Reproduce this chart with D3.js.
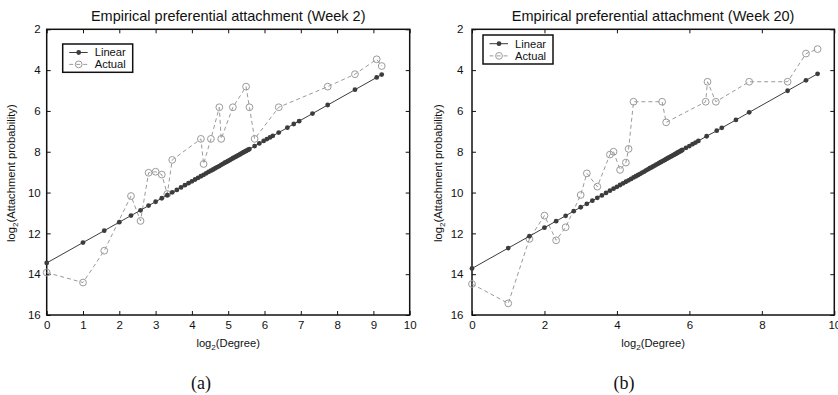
<!DOCTYPE html>
<html>
<head>
<meta charset="utf-8">
<script src="https://cdn.jsdelivr.net/npm/d3@7/dist/d3.min.js"></script>
<style>
  html, body { margin: 0; padding: 0; background: #fff; }
  svg { display: block; font-family: "Liberation Sans", Arial, sans-serif; }
</style>
</head>
<body>
<svg id="chart" width="838" height="395"></svg>
<script>
// Week 2: linear reference (log2 degree vs. log2 probability)
const week2LinearX = [0, 1, 1.585, 2, 2.322, 2.585, 2.807, 3, 3.170, 3.322, 3.459, 3.585, 3.700, 3.807, 3.907, 4,
  4.087, 4.170, 4.248, 4.322, 4.392, 4.459, 4.524, 4.585, 4.644, 4.700, 4.755, 4.807, 4.858, 4.907, 4.954, 5,
  5.044, 5.087, 5.129, 5.170, 5.209, 5.248, 5.285, 5.322, 5.358, 5.392, 5.426, 5.459, 5.492, 5.524, 5.555, 5.585,
  5.728, 5.858, 5.977, 6.066, 6.150, 6.229, 6.392, 6.630, 6.807, 6.954, 7.322, 7.741, 8.492, 9.090, 9.229];
const week2LinearY = [13.45, 12.45, 11.87, 11.45, 11.13, 10.87, 10.64, 10.45, 10.28, 10.13, 9.99, 9.87, 9.75, 9.64, 9.54, 9.45,
  9.36, 9.28, 9.20, 9.13, 9.06, 8.99, 8.93, 8.87, 8.81, 8.75, 8.70, 8.64, 8.59, 8.54, 8.50, 8.45,
  8.41, 8.36, 8.32, 8.28, 8.24, 8.20, 8.17, 8.13, 8.09, 8.06, 8.02, 7.99, 7.96, 7.93, 7.90, 7.87,
  7.72, 7.59, 7.47, 7.38, 7.30, 7.22, 7.06, 6.82, 6.64, 6.50, 6.13, 5.71, 4.96, 4.36, 4.22];
// Week 2: measured attachment
const week2ActualX = [0, 1, 1.585, 2.322, 2.585, 2.807, 3, 3.170, 3.322, 3.459, 4.248, 4.322, 4.524, 4.755, 4.807,
  5.129, 5.492, 5.585, 5.728, 6.392, 7.741, 8.492, 9.090, 9.229];
const week2ActualY = [13.92, 14.41, 12.85, 10.17, 11.39, 9.03, 8.98, 9.12, 10.07, 8.40, 7.37, 8.60, 7.37, 5.82, 7.37,
  5.82, 4.81, 5.82, 7.37, 5.82, 4.81, 4.20, 3.47, 3.80];

// Week 20: linear reference
const week20LinearX = [0, 1, 1.585, 2, 2.322, 2.585, 2.807, 3, 3.170, 3.322, 3.459, 3.585, 3.700, 3.807, 3.907, 4,
  4.087, 4.170, 4.248, 4.322, 4.392, 4.459, 4.524, 4.585, 4.644, 4.700, 4.755, 4.807, 4.858, 4.907, 4.954, 5,
  5.044, 5.087, 5.129, 5.170, 5.209, 5.248, 5.285, 5.322, 5.358, 5.392, 5.426, 5.459, 5.492, 5.524, 5.555, 5.585,
  5.615, 5.644, 5.672, 5.700, 5.728, 5.755, 5.781, 5.807, 5.907, 6.0, 6.087, 6.170, 6.248, 6.476, 6.755, 6.895,
  7.285, 7.651, 8.711, 9.219, 9.539];
const week20LinearY = [13.72, 12.72, 12.14, 11.72, 11.40, 11.14, 10.91, 10.72, 10.55, 10.40, 10.26, 10.14, 10.02, 9.91, 9.81, 9.72,
  9.63, 9.55, 9.47, 9.40, 9.33, 9.26, 9.20, 9.14, 9.08, 9.02, 8.97, 8.91, 8.86, 8.81, 8.77, 8.72,
  8.68, 8.63, 8.59, 8.55, 8.51, 8.47, 8.44, 8.40, 8.36, 8.33, 8.29, 8.26, 8.23, 8.20, 8.17, 8.14,
  8.11, 8.08, 8.05, 8.02, 7.99, 7.97, 7.94, 7.91, 7.81, 7.72, 7.63, 7.55, 7.47, 7.24, 6.97, 6.83,
  6.44, 6.07, 5.01, 4.50, 4.18];
// Week 20: measured attachment
const week20ActualX = [0, 1, 1.585, 2, 2.322, 2.585, 3, 3.170, 3.459, 3.807, 3.907, 4.087, 4.248, 4.322, 4.459,
  5.248, 5.358, 6.45, 6.5, 6.73, 7.651, 8.711, 9.219, 9.539];
const week20ActualY = [14.48, 15.43, 12.27, 11.13, 12.34, 11.70, 10.12, 9.06, 9.71, 8.14, 8.00, 8.89, 8.53, 7.86, 5.55,
  5.55, 6.56, 5.55, 4.57, 5.55, 4.57, 4.57, 3.19, 2.97];

// Axis ticks
const xTicksWeek2 = [0, 1, 2, 3, 4, 5, 6, 7, 8, 9, 10];
const xTicksWeek20 = [0, 2, 4, 6, 8, 10];
const yTicks = [2, 4, 6, 8, 10, 12, 14, 16];

const titles = ["Empirical preferential attachment (Week 2)", "Empirical preferential attachment (Week 20)"];
const captions = ["(a)", "(b)"];
const legendLabels = ["Linear", "Actual"];

const svg = d3.select("#chart");

const panels = [
  { left: 46.7, right: 409.7, linX: week2LinearX, linY: week2LinearY, actX: week2ActualX, actY: week2ActualY,
    xTicks: xTicksWeek2, title: titles[0], titleY: 21, caption: captions[0], captionX: 201,
    ytitleX: 15, yPad: 6, legend: { x: 62.7, y: 44, w: 70, h: 28.3 } },
  { left: 472, right: 834.3, linX: week20LinearX, linY: week20LinearY, actX: week20ActualX, actY: week20ActualY,
    xTicks: xTicksWeek20, title: titles[1], titleY: 20.5, caption: captions[1], captionX: 624,
    ytitleX: 441.5, yPad: 8.5, legend: { x: 483, y: 35, w: 70, h: 29 } }
];

const plotTop = 29.3, plotBottom = 315;
const linearColor = "#3c3c3c";
const actualColor = "#9a9a9a";

function subscriptLabel(sel, pre, sub, post) {
  sel.append("tspan").text(pre);
  sel.append("tspan").attr("dy", 3).attr("font-size", "0.72em").text(sub);
  sel.append("tspan").attr("dy", -3).text(post);
}

panels.forEach(p => {
  const x = d3.scaleLinear().domain([0, 10]).range([p.left, p.right]);
  const y = d3.scaleLinear().domain([2, 16]).range([plotTop, plotBottom]);
  const g = svg.append("g");

  // axes with inward ticks on all four sides
  const bx = g.append("g").attr("transform", `translate(0,${plotBottom})`)
    .call(d3.axisBottom(x).tickValues(p.xTicks).tickFormat(d3.format("d")).tickSizeInner(-4).tickSizeOuter(0).tickPadding(6));
  const tx = g.append("g").attr("transform", `translate(0,${plotTop})`)
    .call(d3.axisTop(x).tickValues(p.xTicks).tickFormat("").tickSizeInner(-4).tickSizeOuter(0));
  const ly = g.append("g").attr("transform", `translate(${p.left},0)`)
    .call(d3.axisLeft(y).tickValues(yTicks).tickFormat(d3.format("d")).tickSizeInner(-4).tickSizeOuter(0).tickPadding(p.yPad));
  const ry = g.append("g").attr("transform", `translate(${p.right},0)`)
    .call(d3.axisRight(y).tickValues(yTicks).tickFormat("").tickSizeInner(-4).tickSizeOuter(0));
  [bx, tx, ly, ry].forEach(a => {
    a.select(".domain").remove();
    a.selectAll(".tick line").attr("stroke", "#111").attr("stroke-width", 1);
    a.selectAll("text").attr("font-size", 11.5).attr("fill", "#111")
      .attr("font-family", "'Liberation Sans', Arial, sans-serif");
  });

  // plot frame
  g.append("rect").attr("x", p.left).attr("y", plotTop)
    .attr("width", p.right - p.left).attr("height", plotBottom - plotTop)
    .attr("fill", "none").attr("stroke", "#111").attr("stroke-width", 1.5);

  // measured series: dashed line with open circles
  const act = p.actX.map((v, i) => [v, p.actY[i]]);
  g.append("path").datum(act)
    .attr("d", d3.line().x(d => x(d[0])).y(d => y(d[1])))
    .attr("fill", "none").attr("stroke", actualColor).attr("stroke-width", 1)
    .attr("stroke-dasharray", "4,3");
  g.selectAll(".act").data(act).enter().append("circle")
    .attr("cx", d => x(d[0])).attr("cy", d => y(d[1])).attr("r", 3.4)
    .attr("fill", "none").attr("stroke", actualColor).attr("stroke-width", 1);

  // linear series: solid line with filled dots
  const lin = p.linX.map((v, i) => [v, p.linY[i]]);
  g.append("path").datum(lin)
    .attr("d", d3.line().x(d => x(d[0])).y(d => y(d[1])))
    .attr("fill", "none").attr("stroke", linearColor).attr("stroke-width", 1);
  g.selectAll(".lin").data(lin).enter().append("circle")
    .attr("cx", d => x(d[0])).attr("cy", d => y(d[1])).attr("r", 2.4)
    .attr("fill", linearColor);

  // title
  g.append("text").attr("x", (p.left + p.right) / 2).attr("y", p.titleY)
    .attr("text-anchor", "middle").attr("font-size", 14.5).attr("fill", "#111").text(p.title);

  // axis titles
  const xt = g.append("text").attr("x", (p.left + p.right) / 2).attr("y", 346.5)
    .attr("text-anchor", "middle").attr("font-size", 11.2).attr("fill", "#111");
  subscriptLabel(xt, "log", "2", "(Degree)");
  const yt = g.append("text").attr("transform", `translate(${p.ytitleX},${(plotTop + plotBottom) / 2 + 1}) rotate(-90)`)
    .attr("text-anchor", "middle").attr("font-size", 11.2).attr("fill", "#111");
  subscriptLabel(yt, "log", "2", "(Attachment probability)");

  // caption
  g.append("text").attr("x", p.captionX).attr("y", 389).attr("text-anchor", "middle")
    .attr("font-family", "'Liberation Serif', 'DejaVu Serif', serif").attr("font-size", 18)
    .attr("fill", "#111").text(p.caption);

  // legend
  const L = p.legend;
  const lg = g.append("g");
  lg.append("rect").attr("x", L.x).attr("y", L.y).attr("width", L.w).attr("height", L.h)
    .attr("fill", "#fff").attr("stroke", "#111").attr("stroke-width", 1.5);
  const row1 = L.y + L.h * 0.3, row2 = L.y + L.h * 0.72;
  lg.append("line").attr("x1", L.x + 6.5).attr("x2", L.x + 25).attr("y1", row1).attr("y2", row1)
    .attr("stroke", linearColor).attr("stroke-width", 1);
  lg.append("circle").attr("cx", L.x + 16).attr("cy", row1).attr("r", 2.4).attr("fill", linearColor);
  lg.append("line").attr("x1", L.x + 6.5).attr("x2", L.x + 25).attr("y1", row2).attr("y2", row2)
    .attr("stroke", actualColor).attr("stroke-width", 1).attr("stroke-dasharray", "4,3");
  lg.append("circle").attr("cx", L.x + 16).attr("cy", row2).attr("r", 3.4)
    .attr("fill", "none").attr("stroke", actualColor);
  lg.append("text").attr("x", L.x + 32).attr("y", row1 + 4).attr("font-size", 11.2).attr("fill", "#111").text(legendLabels[0]);
  lg.append("text").attr("x", L.x + 32).attr("y", row2 + 4).attr("font-size", 11.2).attr("fill", "#111").text(legendLabels[1]);
});
</script>
</body>
</html>
